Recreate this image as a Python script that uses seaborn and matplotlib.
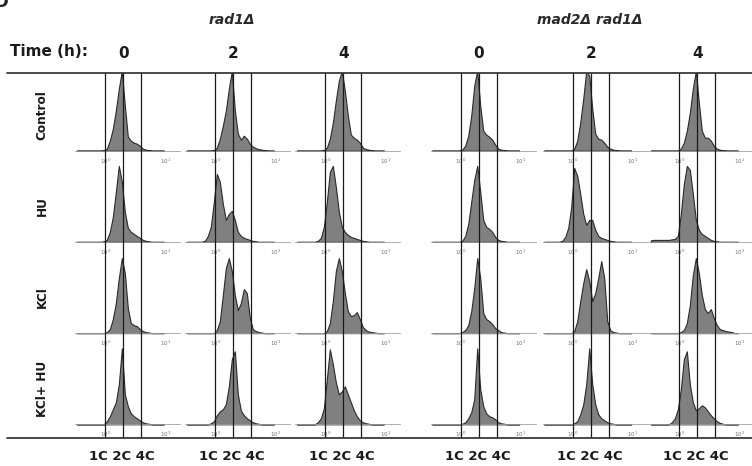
import numpy as np
import matplotlib
matplotlib.use("Agg")
import matplotlib.pyplot as plt
import matplotlib.transforms as mtransforms
from matplotlib.lines import Line2D
from matplotlib.ticker import LogLocator
import seaborn as sns

sns.set_style("white")
plt.rcParams["font.family"] = ["DejaVu Sans"]

# ---- data -------------------------------------------------------------
strains = ["rad1Δ", "mad2Δ rad1Δ"]
treatments = ["Control", "HU", "KCl", "KCl+ HU"]
times = ["0", "2", "4"]
gates = [1, 2, 4]            # 1C, 2C, 4C DNA content
gate_label = "1C 2C 4C"

# histogram bins in log10 units (0.05 decade wide, 10^-0.5 .. 10^1)
bin_lo, bin_hi, bin_w = -0.5, 1.0, 0.05
bin_centers = 10 ** (bin_lo + bin_w / 2 + bin_w * np.arange(30))

# cell counts per bin, one list per time point 0h, 2h, 4h
z10 = [0] * 10
rad1_control = [
    z10[:9] + [0.5] + [2, 10, 22, 40, 62, 80, 45, 14, 10, 8, 7, 5, 2, 1, 0.5, 0, 0, 0, 0, 0],
    z10[:9] + [0.5] + [3, 12, 25, 40, 62, 80, 40, 17, 11, 15, 12, 7, 4, 2.5, 1.5, 1, 0.5, 0, 0, 0],
    z10[:9] + [0.5] + [3, 12, 28, 50, 70, 80, 60, 35, 16, 13, 11, 8, 3, 1.5, 1, 0.5, 0, 0, 0, 0],
]
rad1_hu = [
    z10[:9] + [0.5] + [2, 10, 25, 50, 76, 60, 30, 14, 10, 8, 6, 4, 2, 1, 0.5, 0, 0, 0, 0, 0],
    [0, 0, 0, 0, 0, 0, 1, 6, 15, 40] + [68, 60, 38, 22, 28, 31, 22, 10, 6, 4, 3, 2, 1, 0.5, 0, 0, 0, 0, 0, 0],
    [0, 0, 0, 0, 0, 0, 0, 1, 4, 15] + [40, 70, 76, 55, 30, 15, 10, 7, 5, 4, 3, 2, 1, 0.5, 0, 0, 0, 0, 0, 0],
]
rad1_kcl = [
    z10 + [1, 4, 14, 30, 55, 75, 60, 25, 10, 8, 7, 4, 2, 1, 0.5, 0, 0, 0, 0, 0],
    z10 + [3, 12, 38, 65, 75, 62, 38, 23, 30, 44, 40, 15, 4, 2, 1, 0.5, 0, 0, 0, 0],
    z10 + [2, 10, 32, 62, 75, 62, 40, 22, 17, 18, 21, 14, 6, 3, 1.5, 1, 0.5, 0, 0, 0],
]
rad1_kcl_hu = [
    z10 + [3, 8, 15, 22, 40, 76, 30, 18, 11, 8, 6, 4, 2, 1, 0.5, 0, 0, 0, 0, 0],
    [0, 0, 0, 0, 0, 0, 0, 0, 1, 3] + [9, 13, 15, 20, 38, 65, 73, 30, 14, 9, 6, 4, 2, 1, 0.5, 0, 0, 0, 0, 0],
    [0, 0, 0, 0, 0, 0, 0, 2, 6, 16] + [45, 75, 60, 42, 30, 33, 38, 30, 22, 14, 8, 4, 2, 1, 0.5, 0, 0, 0, 0, 0],
]
mad2_control = [
    z10 + [1, 5, 15, 35, 65, 80, 45, 20, 16, 14, 11, 6, 2, 1, 0.5, 0, 0, 0, 0, 0],
    z10 + [2, 10, 28, 52, 80, 75, 42, 17, 12, 11, 8, 4, 2, 1, 0.5, 0, 0, 0, 0, 0],
    z10 + [2, 8, 20, 38, 62, 80, 48, 20, 13, 13, 10, 5, 2, 1, 0.5, 0, 0, 0, 0, 0],
]
mad2_hu = [
    z10 + [1, 6, 18, 40, 62, 76, 50, 22, 15, 13, 10, 5, 2, 1, 0.5, 0, 0, 0, 0, 0],
    [0, 0, 0, 0, 0, 0, 1, 5, 14, 35] + [74, 66, 48, 28, 17, 22, 22, 12, 6, 4, 3, 2, 1, 0.5, 0, 0, 0, 0, 0, 0],
    [1.5, 2, 2, 2, 2, 2, 2, 2.5, 3, 6] + [28, 58, 76, 72, 48, 22, 12, 8, 6, 4, 2, 1, 0.5, 0, 0, 0, 0, 0, 0, 0],
]
mad2_kcl = [
    z10 + [1, 3, 8, 22, 45, 75, 55, 20, 14, 12, 9, 5, 3, 1, 0.5, 0, 0, 0, 0, 0],
    z10 + [2, 12, 32, 50, 64, 52, 32, 40, 55, 72, 55, 12, 3, 1, 0.5, 0, 0, 0, 0, 0],
    z10 + [1, 3, 10, 28, 58, 75, 60, 38, 24, 20, 24, 15, 8, 4, 3, 2, 1.5, 1, 0, 0],
]
mad2_kcl_hu = [
    z10 + [0.5, 2, 6, 12, 25, 76, 35, 18, 11, 8, 7, 5, 2, 1, 0.5, 0, 0, 0, 0, 0],
    z10 + [1, 3, 10, 20, 40, 76, 40, 20, 10, 6, 4, 2, 1, 0.5, 0, 0, 0, 0, 0, 0],
    [0, 0, 0, 0, 0, 0, 0, 2, 6, 15] + [35, 65, 73, 40, 22, 14, 16, 19, 17, 13, 9, 6, 3, 1.5, 0.5, 0, 0, 0, 0, 0],
]
strain_data = [
    [rad1_control, rad1_hu, rad1_kcl, rad1_kcl_hu],
    [mad2_control, mad2_hu, mad2_kcl, mad2_kcl_hu],
]

# ---- layout (pixels) --------------------------------------------------
W, H = 752, 466
TOP, ROW_H, BASE = 73, 91.2, 77.7       # first row top, row height, baseline offset in row
one_c_px = [[105.3, 215.3, 325.3], [460.7, 572.7, 679.3]]
span_lo, span_hi, dec_px = -0.5, 1.25, 60

fig = plt.figure(figsize=(W / 100, H / 100), dpi=100)
top_axes = {}
bottom_axes = {}

for s in range(2):
    for r in range(4):
        for c in range(3):
            x0 = one_c_px[s][c] + span_lo * dec_px
            w = (span_hi - span_lo) * dec_px
            y0 = TOP + r * ROW_H
            ax = fig.add_axes([x0 / W, 1 - (y0 + ROW_H) / H, w / W, ROW_H / H])
            ax.patch.set_alpha(0)
            sns.histplot(x=bin_centers, weights=strain_data[s][r][c],
                         binwidth=bin_w, binrange=(bin_lo, bin_hi), log_scale=True,
                         element="poly", fill=True, color="#808080", alpha=1,
                         edgecolor="#2a2a2a", linewidth=0.8, ax=ax)
            ax.set_xlim(10 ** span_lo, 10 ** span_hi)
            ax.set_ylim(-(ROW_H - BASE), BASE)
            ax.set_xlabel("")
            ax.set_ylabel("")
            ax.set_yticks([])
            for sp in ["top", "left", "right"]:
                ax.spines[sp].set_visible(False)
            ax.spines["bottom"].set_position(("data", 0))
            ax.spines["bottom"].set_color("#a0a0a0")
            ax.spines["bottom"].set_linewidth(0.6)
            ax.xaxis.set_major_locator(LogLocator(base=10, numticks=6))
            ax.xaxis.set_minor_locator(LogLocator(base=10, subs=np.arange(2, 10), numticks=20))
            ax.tick_params(axis="x", which="both", direction="out", color="#808080",
                           width=0.5, labelsize=4, labelcolor="#707070", pad=1)
            ax.tick_params(axis="x", which="major", length=3)
            ax.tick_params(axis="x", which="minor", length=2)
            for g in gates:
                ax.axvline(g, color="#1a1a1a", lw=0.9, zorder=3)
            if r == 0:
                top_axes[(s, c)] = ax
            if r == 3:
                bottom_axes[(s, c)] = ax

# frame lines
for yy in [TOP, TOP + 4 * ROW_H]:
    fig.add_artist(Line2D([7 / W, 1], [1 - yy / H] * 2, color="#3a3a3a", lw=1.3))

# headers
for s in range(2):
    for c in range(3):
        tr = mtransforms.blended_transform_factory(top_axes[(s, c)].transData, fig.transFigure)
        top_axes[(s, c)].text(2, 1 - 53 / H, times[c], transform=tr, ha="center", va="center",
                              fontsize=11, fontweight="bold", color="#1a1a1a")
        trb = mtransforms.blended_transform_factory(bottom_axes[(s, c)].transData, fig.transFigure)
        bottom_axes[(s, c)].text(1.9, 1 - 457 / H, gate_label, transform=trb, ha="center",
                                 va="center", fontsize=9.5, fontweight="bold", color="#1a1a1a")
    tr = mtransforms.blended_transform_factory(top_axes[(s, 1)].transData, fig.transFigure)
    top_axes[(s, 1)].text(1.9, 1 - 20 / H, strains[s], transform=tr, ha="center", va="center",
                          fontsize=10, fontweight="bold", style="italic", color="#2a2a2a")

fig.text(10 / W, 1 - 51 / H, "Time (h):", ha="left", va="center",
         fontsize=11, fontweight="bold", color="#1a1a1a")
for r, name in enumerate(treatments):
    fig.text(42 / W, 1 - (TOP + r * ROW_H + 42) / H, name, rotation=90, ha="center",
             va="center", fontsize=8.7, fontweight="bold", color="#1a1a1a")

# cropped panel letter at the corner
fig.text(-6 / W, 1 - 2 / H, "D", ha="left", va="center", fontsize=12, fontweight="bold")

fig.savefig("out.png", dpi=100)
